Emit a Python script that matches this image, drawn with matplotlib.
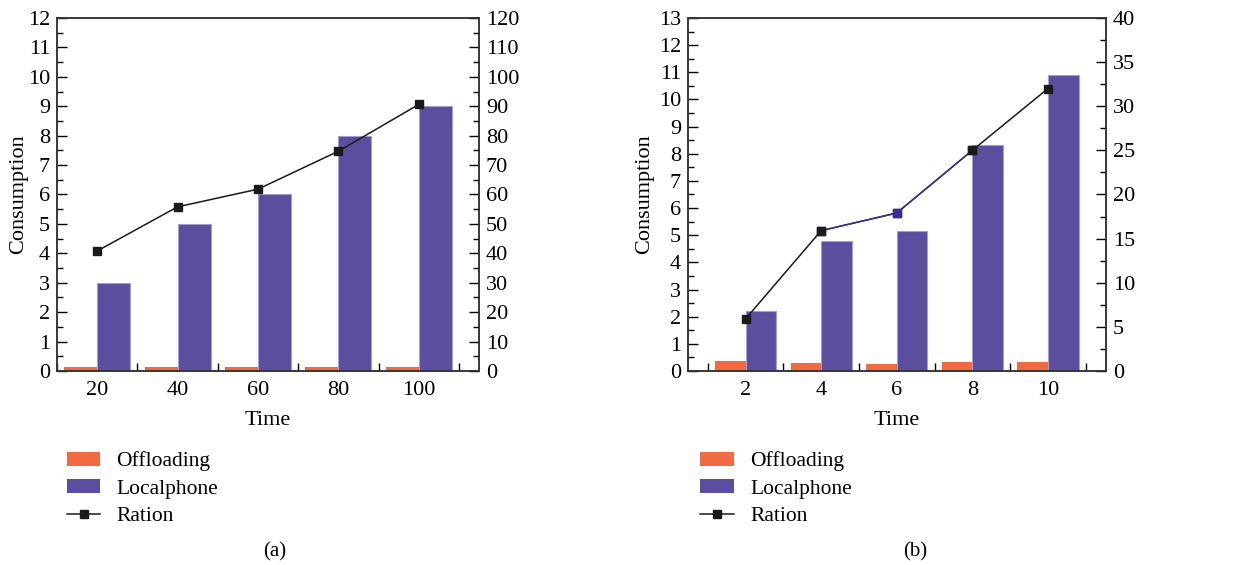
import numpy as np
import matplotlib
matplotlib.use("Agg")
import matplotlib.pyplot as plt
from matplotlib.ticker import MultipleLocator
from matplotlib.patches import Patch
from matplotlib.lines import Line2D

plt.rcParams['font.family'] = ['Liberation Serif', 'DejaVu Serif']
plt.rcParams['font.size'] = 16

# panel (a)
time_a = np.array([20, 40, 60, 80, 100])
offload_a = np.array([0.12, 0.12, 0.12, 0.12, 0.12])
local_a = np.array([3.0, 5.0, 6.0, 8.0, 9.0])
ration_a = np.array([40.8, 55.8, 61.8, 74.7, 90.6])

# panel (b)
time_b = np.array([2, 4, 6, 8, 10])
offload_b = np.array([0.38, 0.29, 0.26, 0.33, 0.33])
local_b = np.array([2.2, 4.8, 5.15, 8.33, 10.9])
ration_b = np.array([5.9, 15.9, 17.9, 25.0, 32.0])

c_off = '#F26A43'
c_loc = '#5B4E9E'
c_edge = '#A39DD0'
c_blue = '#3A2E94'

fig = plt.figure(figsize=(12.42, 5.65), dpi=100)


def style_axes(ax, ax2):
    for a in (ax, ax2):
        for s in a.spines.values():
            s.set_linewidth(1.1)
            s.set_color('#333333')
    ax.tick_params(axis='y', which='major', direction='in', length=7, width=1, right=False, pad=5)
    ax.tick_params(axis='y', which='minor', direction='in', length=4, width=1, right=False)
    ax.tick_params(axis='x', which='major', length=0, pad=7)
    ax.tick_params(axis='x', which='minor', direction='in', length=6, width=1, top=False)
    ax2.tick_params(axis='y', which='major', direction='in', length=7, width=1, pad=5)
    ax2.tick_params(axis='y', which='minor', direction='in', length=4, width=1)


# (a)
ax = fig.add_axes([0.0459, 0.3434, 0.3398, 0.6248])
w = 8.2
ax.bar(time_a - w / 2, offload_a, width=w, color=c_off, zorder=2)
ax.bar(time_a + w / 2, local_a, width=w, color=c_loc, edgecolor=c_edge, linewidth=0.8, zorder=2)
ax.set_xlim(10, 115)
ax.set_ylim(0, 12)
ax.set_xticks(time_a)
ax.xaxis.set_minor_locator(MultipleLocator(20, offset=10))
ax.yaxis.set_major_locator(MultipleLocator(1))
ax.yaxis.set_minor_locator(MultipleLocator(0.5))
ax.set_xlabel("Time", labelpad=8)
ax.set_ylabel("Consumption")
ax.yaxis.set_label_coords(-0.0685, 0.5)
ax2 = ax.twinx()
ax2.plot(time_a, ration_a, color='#1a1a1a', marker='s', markersize=6, linewidth=1.1, zorder=3)
ax2.set_ylim(0, 120)
ax2.yaxis.set_major_locator(MultipleLocator(10))
ax2.yaxis.set_minor_locator(MultipleLocator(5))
style_axes(ax, ax2)

# (b)
bx = fig.add_axes([0.554, 0.3434, 0.3366, 0.6248])
w = 0.81
bx.bar(time_b - w / 2, offload_b, width=w, color=c_off, zorder=2)
bx.bar(time_b + w / 2, local_b, width=w, color=c_loc, edgecolor=c_edge, linewidth=0.8, zorder=2)
bx.set_xlim(0.48, 11.54)
bx.set_ylim(0, 13)
bx.set_xticks(time_b)
bx.xaxis.set_minor_locator(MultipleLocator(2, offset=1))
bx.yaxis.set_major_locator(MultipleLocator(1))
bx.yaxis.set_minor_locator(MultipleLocator(0.5))
bx.set_xlabel("Time", labelpad=8)
bx.set_ylabel("Consumption")
bx.yaxis.set_label_coords(-0.081, 0.5)
bx2 = bx.twinx()
bx2.plot(time_b, ration_b, color='#1a1a1a', marker='s', markersize=6, linewidth=1.1, zorder=3)
bx2.plot(time_b[1:4], ration_b[1:4], color=c_blue, linewidth=1.0, zorder=3)
bx2.plot(time_b[2:3], ration_b[2:3], color=c_blue, marker='s', markersize=6, linestyle='none', zorder=4)
bx2.plot(time_b[[1, 3]], ration_b[[1, 3]], color='#1a1a1a', marker='s', markersize=6, linestyle='none', zorder=4)
bx2.set_ylim(0, 40)
bx2.yaxis.set_major_locator(MultipleLocator(5))
bx2.yaxis.set_minor_locator(MultipleLocator(2.5))
style_axes(bx, bx2)

# legends
handles = [Patch(facecolor=c_off, label='Offloading'),
           Patch(facecolor=c_loc, label='Localphone'),
           Line2D([], [], color='#1a1a1a', marker='s', markersize=6, linewidth=1.1, label='Ration')]
for xpos in (0.054, 0.564):
    fig.legend(handles=handles, loc='upper left', bbox_to_anchor=(xpos, 0.201), frameon=False,
               fontsize=15.5, handlelength=1.55, handleheight=0.65, handletextpad=0.75,
               labelspacing=0.35, borderaxespad=0, borderpad=0)

fig.text(0.2215, 0.006, "(a)", ha='center', va='bottom', fontsize=15)
fig.text(0.737, 0.006, "(b)", ha='center', va='bottom', fontsize=15)

plt.savefig('out.png', dpi=100)
